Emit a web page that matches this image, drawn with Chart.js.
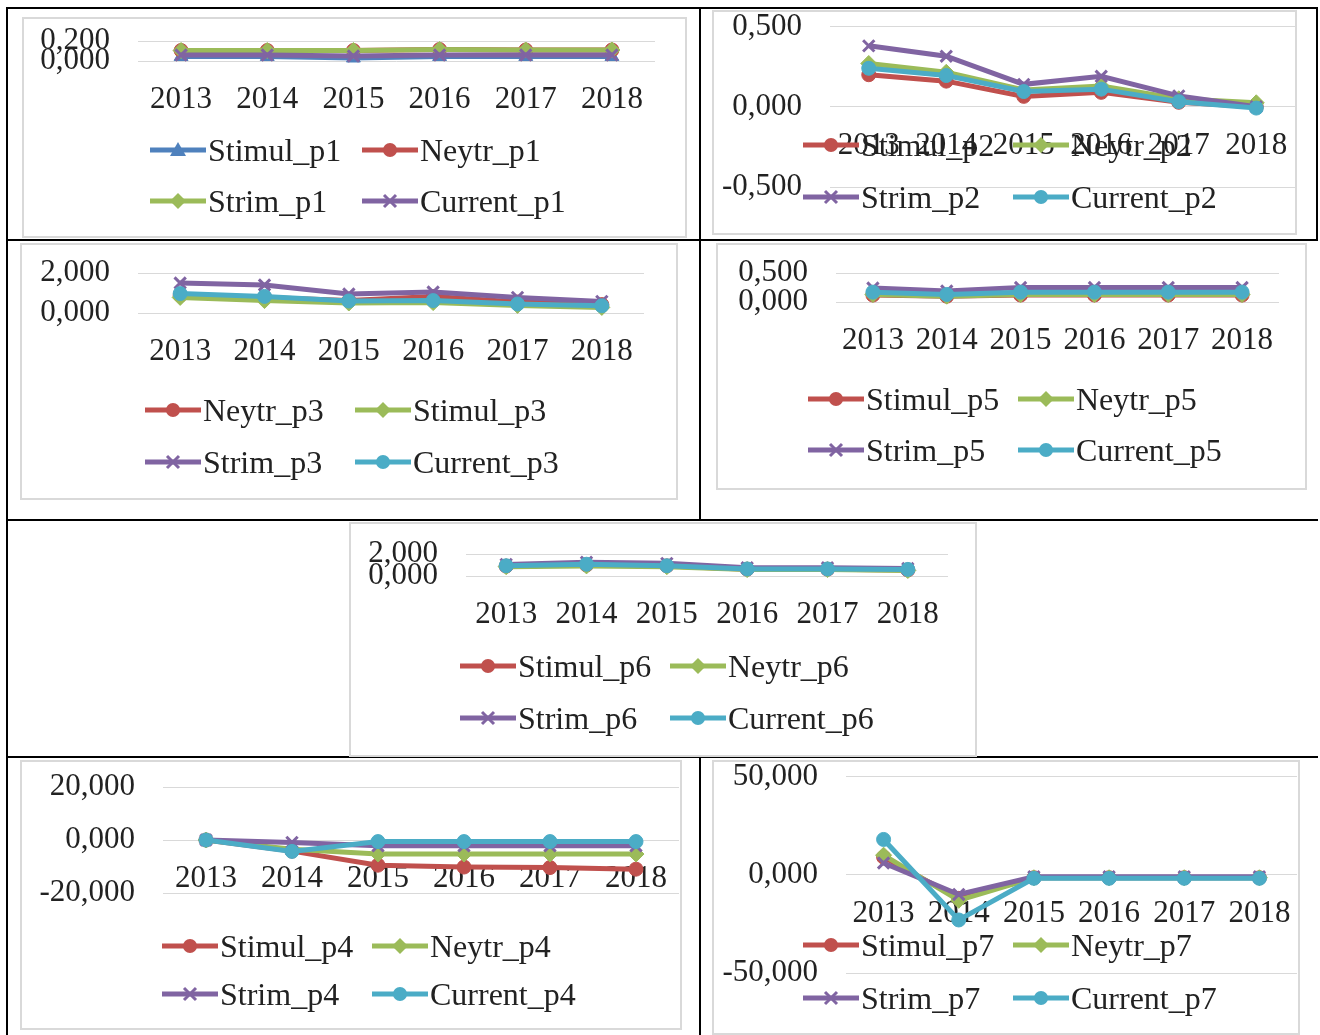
<!DOCTYPE html>
<html>
<head>
<meta charset="utf-8">
<script src="https://cdn.jsdelivr.net/npm/chart.js@4.4.1/dist/chart.umd.min.js"></script>
<style>
  body { margin: 0; background: #fff; width: 1320px; height: 1035px; position: relative; overflow: hidden;
         font-family: "Liberation Serif", "Times New Roman", serif; }
  .rule { position: absolute; background: #000; }
  .box { position: absolute; background: #fff; border: 2px solid #d9d9d9; box-sizing: border-box; }
  canvas.chart { position: absolute; }
  .leg { position: absolute; display: flex; align-items: center; font-size: 32px; color: #222;
         white-space: nowrap; transform: translateY(-50%); line-height: 1; }
  .leg svg { display: block; margin-right: 2px; }
</style>
</head>
<body>
<script>
const YEARS = ["2013", "2014", "2015", "2016", "2017", "2018"];

const STIMUL_P1 = [0.045, 0.045, 0.03, 0.045, 0.045, 0.045];
const NEYTR_P1 = [0.105, 0.105, 0.105, 0.115, 0.11, 0.11];
const STRIM_P1 = [0.105, 0.105, 0.105, 0.115, 0.11, 0.11];
const CURRENT_P1 = [0.06, 0.06, 0.05, 0.06, 0.06, 0.06];

const STIMUL_P2 = [0.2, 0.16, 0.065, 0.09, 0.028, 0.0];
const NEYTR_P2 = [0.27, 0.215, 0.105, 0.13, 0.05, 0.025];
const STRIM_P2 = [0.38, 0.315, 0.14, 0.19, 0.068, 0.0];
const CURRENT_P2 = [0.24, 0.195, 0.095, 0.11, 0.032, -0.008];

const NEYTR_P3 = [0.88, 0.78, 0.62, 0.82, 0.55, 0.42];
const STIMUL_P3 = [0.78, 0.62, 0.5, 0.52, 0.38, 0.28];
const STRIM_P3 = [1.5, 1.4, 0.95, 1.05, 0.78, 0.58];
const CURRENT_P3 = [0.97, 0.83, 0.6, 0.62, 0.45, 0.36];

const STIMUL_P5 = [0.12, 0.1, 0.12, 0.12, 0.12, 0.12];
const NEYTR_P5 = [0.13, 0.1, 0.13, 0.13, 0.13, 0.13];
const STRIM_P5 = [0.24, 0.19, 0.25, 0.25, 0.25, 0.25];
const CURRENT_P5 = [0.17, 0.13, 0.17, 0.17, 0.17, 0.17];

const STIMUL_P6 = [0.9, 1.0, 0.92, 0.62, 0.62, 0.55];
const NEYTR_P6 = [0.85, 0.92, 0.85, 0.58, 0.58, 0.5];
const STRIM_P6 = [1.05, 1.25, 1.15, 0.75, 0.75, 0.68];
const CURRENT_P6 = [0.93, 1.07, 0.93, 0.64, 0.64, 0.6];

const STIMUL_P4 = [0, -4.2, -9.5, -10.2, -10.4, -11];
const NEYTR_P4 = [0, -3.5, -5.3, -5.3, -5.3, -5.3];
const STRIM_P4 = [0, -0.9, -2.2, -2.2, -2.2, -2.2];
const CURRENT_P4 = [0, -4.3, -0.6, -0.6, -0.6, -0.6];

const STIMUL_P7 = [9, -12, -1.5, -1.5, -1.5, -1.5];
const NEYTR_P7 = [10, -13, -1.5, -1.5, -1.5, -1.5];
const STRIM_P7 = [6, -10, -1, -1, -1, -1];
const CURRENT_P7 = [18, -23, -1.8, -1.8, -1.8, -1.8];

const BLUE = "#4F81BD", RED = "#C0504D", GREEN = "#9BBB59", PURPLE = "#8064A2", CYAN = "#4BACC6";

// box / plot rectangles are page pixels: [x0, y0, x1, y1]
const PANELS = [
  { box: [22, 17, 687, 238], plot: [138, 41, 655, 61], y: [0, 0.2, 0.2],
    legX: [150, 362], legY: [150, 201],
    series: [["Stimul_p1", STIMUL_P1, BLUE, "triangle"], ["Neytr_p1", NEYTR_P1, RED, "circle"],
             ["Strim_p1", STRIM_P1, GREEN, "rectRot"], ["Current_p1", CURRENT_P1, PURPLE, "crossRot"]] },
  { box: [712, 10, 1297, 235], plot: [830, 26, 1295, 187], y: [-0.5, 0.5, 0.5],
    legX: [803, 1013], legY: [145, 197],
    series: [["Stimul_p2", STIMUL_P2, RED, "circle"], ["Neytr_p2", NEYTR_P2, GREEN, "rectRot"],
             ["Strim_p2", STRIM_P2, PURPLE, "crossRot"], ["Current_p2", CURRENT_P2, CYAN, "circle"]] },
  { box: [20, 243, 678, 500], plot: [138, 273, 644, 313], y: [0, 2, 2],
    legX: [145, 355], legY: [410, 462],
    series: [["Neytr_p3", NEYTR_P3, RED, "circle"], ["Stimul_p3", STIMUL_P3, GREEN, "rectRot"],
             ["Strim_p3", STRIM_P3, PURPLE, "crossRot"], ["Current_p3", CURRENT_P3, CYAN, "circle"]] },
  { box: [716, 243, 1307, 490], plot: [836, 273, 1279, 302], y: [0, 0.5, 0.5],
    legX: [808, 1018], legY: [399, 450],
    series: [["Stimul_p5", STIMUL_P5, RED, "circle"], ["Neytr_p5", NEYTR_P5, GREEN, "rectRot"],
             ["Strim_p5", STRIM_P5, PURPLE, "crossRot"], ["Current_p5", CURRENT_P5, CYAN, "circle"]] },
  { box: [349, 522, 977, 757], plot: [466, 554, 948, 576], y: [0, 2, 2],
    legX: [460, 670], legY: [666, 718],
    series: [["Stimul_p6", STIMUL_P6, RED, "circle"], ["Neytr_p6", NEYTR_P6, GREEN, "rectRot"],
             ["Strim_p6", STRIM_P6, PURPLE, "crossRot"], ["Current_p6", CURRENT_P6, CYAN, "circle"]] },
  { box: [20, 760, 682, 1030], plot: [163, 787, 679, 893], y: [-20, 20, 20],
    legX: [162, 372], legY: [946, 994],
    series: [["Stimul_p4", STIMUL_P4, RED, "circle"], ["Neytr_p4", NEYTR_P4, GREEN, "rectRot"],
             ["Strim_p4", STRIM_P4, PURPLE, "crossRot"], ["Current_p4", CURRENT_P4, CYAN, "circle"]] },
  { box: [712, 760, 1300, 1035], plot: [846, 776, 1297, 973], y: [-50, 50, 50],
    legX: [803, 1013], legY: [945, 998],
    series: [["Stimul_p7", STIMUL_P7, RED, "circle"], ["Neytr_p7", NEYTR_P7, GREEN, "rectRot"],
             ["Strim_p7", STRIM_P7, PURPLE, "crossRot"], ["Current_p7", CURRENT_P7, CYAN, "circle"]] },
];

// table rules: [x, y, w, h]
const RULES = [
  [6, 7, 1312, 2], [6, 7, 2, 1028], [6, 239, 1312, 2], [6, 519, 1312, 2], [6, 756, 1312, 2],
  [699, 7, 2, 514], [699, 756, 2, 279], [1316, 7, 2, 234],
];

const MARGIN = 30, YW = 135;
const fmt = (v) => v.toFixed(3).replace(".", ",");

Chart.defaults.font.family = "'Liberation Serif', 'Times New Roman', serif";
Chart.defaults.font.size = 31;
Chart.defaults.color = "#222";

function el(tag, cls, css) {
  const e = document.createElement(tag);
  if (cls) e.className = cls;
  Object.assign(e.style, css || {});
  document.body.appendChild(e);
  return e;
}

for (const [x, y, w, h] of RULES) el("div", "rule", { left: x + "px", top: y + "px", width: w + "px", height: h + "px" });

function markerSvg(color, marker) {
  let m;
  if (marker === "circle") m = `<circle cx="28" cy="11" r="7" fill="${color}"/>`;
  else if (marker === "rectRot") m = `<polygon points="28,3 36,11 28,19 20,11" fill="${color}"/>`;
  else if (marker === "triangle") m = `<polygon points="28,3 36,17 20,17" fill="${color}"/>`;
  else m = `<path d="M22,5 L34,17 M34,5 L22,17" stroke="${color}" stroke-width="3"/>`;
  return `<svg width="56" height="22"><line x1="0" y1="11" x2="56" y2="11" stroke="${color}" stroke-width="5"/>${m}</svg>`;
}

function buildPanel(p) {
  const [bx0, by0, bx1, by1] = p.box;
  el("div", "box", { left: bx0 + "px", top: by0 + "px", width: (bx1 - bx0) + "px", height: (by1 - by0) + "px" });

  const cx = bx0 - MARGIN, cy = by0 - MARGIN;
  const cw = bx1 - bx0 + 2 * MARGIN, ch = by1 - by0 + 2 * MARGIN;
  const cv = el("canvas", "chart", { left: cx + "px", top: cy + "px" });
  cv.width = cw; cv.height = ch;

  const [px0, py0, px1, py1] = p.plot;
  const n = p.series.length;
  new Chart(cv, {
    type: "line",
    data: {
      labels: YEARS,
      datasets: p.series.map(([label, data, color, marker], i) => ({
        label, data,
        borderColor: color, backgroundColor: color, borderWidth: 5,
        pointStyle: marker, pointRadius: marker === "circle" ? 7 : 8,
        pointBackgroundColor: color, pointBorderColor: color,
        pointBorderWidth: marker === "crossRot" ? 3 : 1,
        tension: 0, clip: false, order: n - i,
      })),
    },
    options: {
      responsive: false, animation: false, devicePixelRatio: 1,
      layout: { padding: { left: px0 - cx - YW, top: py0 - cy, right: cx + cw - px1, bottom: cy + ch - py1 } },
      plugins: { legend: { display: false }, tooltip: { enabled: false } },
      scales: {
        x: {
          type: "category", position: { y: 0 }, offset: true,
          grid: { display: false, drawTicks: false }, border: { display: false },
          ticks: { padding: 20, maxRotation: 0, autoSkip: false },
        },
        y: {
          min: p.y[0], max: p.y[1],
          grid: { color: "#d9d9d9", lineWidth: 1, drawTicks: false }, border: { display: false },
          ticks: { stepSize: p.y[2], autoSkip: false, padding: 28, callback: fmt },
          afterFit: (s) => { s.width = YW; },
        },
      },
    },
  });

  p.series.forEach(([label, , color, marker], i) => {
    const item = el("div", "leg", { left: p.legX[i % 2] + "px", top: p.legY[Math.floor(i / 2)] + "px" });
    item.innerHTML = markerSvg(color, marker) + `<span>${label}</span>`;
  });
}

PANELS.forEach(buildPanel);
</script>
</body>
</html>
